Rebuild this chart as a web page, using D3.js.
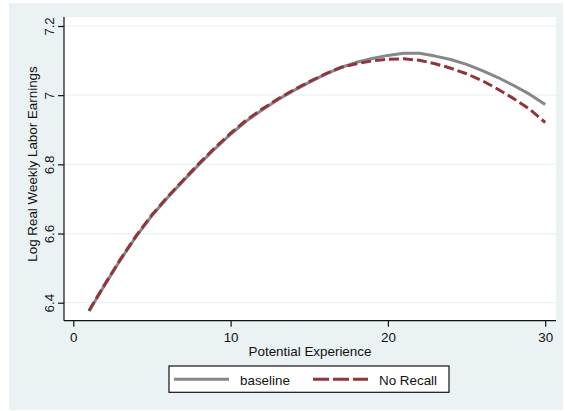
<!DOCTYPE html>
<html>
<head>
<meta charset="utf-8">
<script src="https://cdn.jsdelivr.net/npm/d3@7"></script>
<style>
  html, body { margin: 0; padding: 0; background: #ffffff; }
  svg { display: block; font-family: "Liberation Sans", Arial, sans-serif; }
</style>
</head>
<body>
<svg id="chart" width="565" height="411"></svg>
<script>
// Potential experience (years) at which the earnings profiles are evaluated
const experience = [1, 2, 3, 4, 5, 6, 7, 8, 9, 10, 11, 12, 13, 14, 15,
                    16, 17, 18, 19, 20, 21, 22, 23, 24, 25, 26, 27, 28, 29, 30];

// Log real weekly labor earnings, baseline profile
const baseline = [6.376, 6.451, 6.524, 6.592, 6.652, 6.704, 6.753, 6.800, 6.845, 6.887,
                  6.925, 6.957, 6.987, 7.013, 7.037, 7.060, 7.080, 7.095, 7.106, 7.115,
                  7.121, 7.121, 7.113, 7.103, 7.089, 7.071, 7.051, 7.028, 7.003, 6.973];

// Log real weekly labor earnings, no-recall profile
const noRecall = [6.377, 6.453, 6.526, 6.594, 6.654, 6.706, 6.755, 6.803, 6.848, 6.890,
                  6.928, 6.960, 6.989, 7.015, 7.039, 7.061, 7.080, 7.091, 7.099, 7.104,
                  7.105, 7.101, 7.091, 7.078, 7.062, 7.042, 7.017, 6.990, 6.960, 6.921];

const xTicks = [0, 10, 20, 30];
const yTicks = [6.4, 6.6, 6.8, 7, 7.2];

const seriesNames = ["baseline", "No Recall"];

const svg = d3.select("#chart");

const bg = "#eaf2f3";
const grayCol = "#878787";
const redCol = "#90353b";
const fontSize = 13.4;

// outer graph region
svg.append("rect")
  .attr("x", 9).attr("y", 3)
  .attr("width", 554).attr("height", 407)
  .attr("fill", bg);

// plot region
const plot = { left: 64, right: 556, top: 17, bottom: 320.7 };
svg.append("rect")
  .attr("x", plot.left).attr("y", plot.top)
  .attr("width", plot.right - plot.left).attr("height", plot.bottom - plot.top)
  .attr("fill", "#ffffff");

const x = d3.scaleLinear().domain([0, 30]).range([73.3, 545.2]);
const y = d3.scaleLinear().domain([6.4, 7.2]).range([302.7, 26]);

// horizontal grid lines
svg.append("g")
  .selectAll("line")
  .data(yTicks)
  .join("line")
  .attr("x1", plot.left).attr("x2", plot.right)
  .attr("y1", d => y(d)).attr("y2", d => y(d))
  .attr("stroke", bg).attr("stroke-width", 1.2);

// y axis
const yAxis = svg.append("g")
  .attr("transform", `translate(${plot.left},0)`)
  .call(d3.axisLeft(y).tickValues(yTicks).tickSize(6).tickFormat(d3.format("")));
yAxis.select(".domain").attr("d", `M0,${plot.top}V${plot.bottom}`).attr("stroke", "#111").attr("stroke-width", 1.2);
yAxis.selectAll(".tick line").attr("stroke", "#111").attr("stroke-width", 1.2);
yAxis.selectAll(".tick text")
  .attr("x", null).attr("dy", null)
  .attr("transform", "translate(-10.5,0) rotate(-90)")
  .attr("text-anchor", "middle")
  .attr("font-size", fontSize)
  .attr("font-family", "Liberation Sans, Arial, sans-serif")
  .attr("fill", "#111");

// x axis
const xAxis = svg.append("g")
  .attr("transform", `translate(0,${plot.bottom})`)
  .call(d3.axisBottom(x).tickValues(xTicks).tickSize(6));
xAxis.select(".domain").attr("d", `M${plot.left},0H${plot.right}`).attr("stroke", "#111").attr("stroke-width", 1.2);
xAxis.selectAll(".tick line").attr("stroke", "#111").attr("stroke-width", 1.2);
xAxis.selectAll(".tick text")
  .attr("y", 21).attr("dy", null)
  .attr("font-size", fontSize)
  .attr("font-family", "Liberation Sans, Arial, sans-serif")
  .attr("fill", "#111");

// axis titles
svg.append("text")
  .attr("x", 310).attr("y", 355.5)
  .attr("text-anchor", "middle")
  .attr("font-size", fontSize).attr("fill", "#111")
  .text("Potential Experience");

svg.append("text")
  .attr("transform", "translate(37,164) rotate(-90)")
  .attr("text-anchor", "middle")
  .attr("font-size", fontSize).attr("fill", "#111")
  .text("Log Real Weekly Labor Earnings");

// earnings profiles
const line = d3.line()
  .x((d, i) => x(experience[i]))
  .y(d => y(d));

svg.append("path")
  .datum(baseline)
  .attr("d", line)
  .attr("fill", "none")
  .attr("stroke", grayCol)
  .attr("stroke-width", 3)
  .attr("stroke-linejoin", "round");

svg.append("path")
  .datum(noRecall)
  .attr("d", line)
  .attr("fill", "none")
  .attr("stroke", redCol)
  .attr("stroke-width", 3)
  .attr("stroke-dasharray", "10,4")
  .attr("stroke-linejoin", "round");

// legend
const legend = svg.append("g");
legend.append("rect")
  .attr("x", 169).attr("y", 366)
  .attr("width", 280).attr("height", 26.3)
  .attr("fill", "#ffffff")
  .attr("stroke", "#111").attr("stroke-width", 1.2);

const legendItems = [
  { name: seriesNames[0], color: grayCol, dash: null, x0: 174 },
  { name: seriesNames[1], color: redCol, dash: "16,4", x0: 313 }
];
legendItems.forEach(it => {
  legend.append("line")
    .attr("x1", it.x0).attr("x2", it.x0 + 55)
    .attr("y1", 379.3).attr("y2", 379.3)
    .attr("stroke", it.color).attr("stroke-width", 3)
    .attr("stroke-dasharray", it.dash);
  legend.append("text")
    .attr("x", it.x0 + 66).attr("y", 384.5)
    .attr("font-size", fontSize).attr("fill", "#111")
    .text(it.name);
});
</script>
</body>
</html>
